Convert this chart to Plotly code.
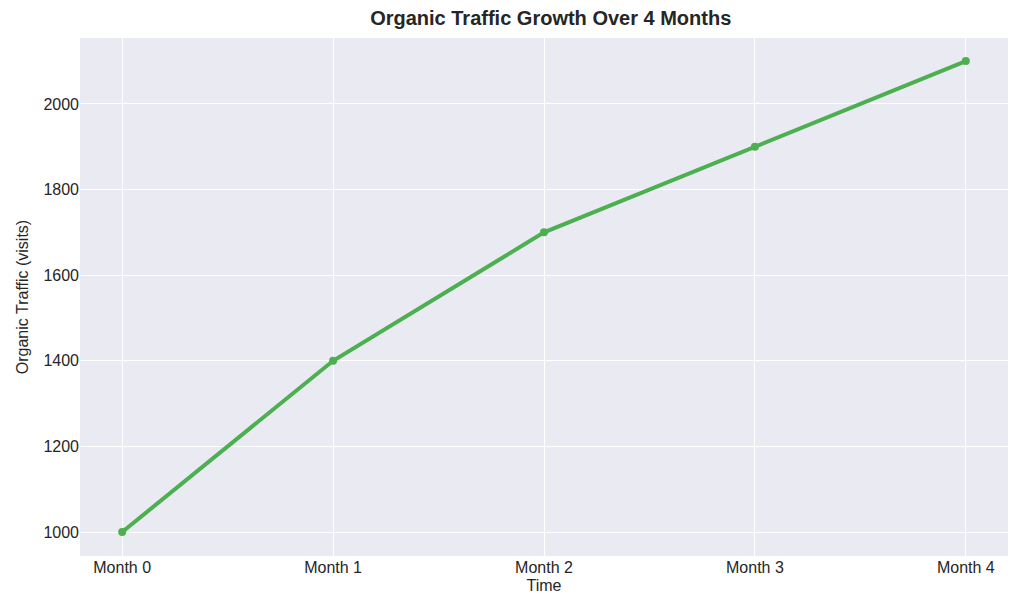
import plotly.graph_objects as go

months = ["Month 0", "Month 1", "Month 2", "Month 3", "Month 4"]
traffic = [1000, 1400, 1700, 1900, 2100]

fig = go.Figure(go.Scatter(
    x=list(range(len(months))), y=traffic, mode="lines+markers",
    line=dict(color="#4CAF50", width=4), marker=dict(color="#4CAF50", size=8)))

fig.update_layout(
    width=1024, height=614,
    margin=dict(l=72, r=24, t=30, b=66),
    paper_bgcolor="white", plot_bgcolor="#EAEAF2",
    font=dict(family="Liberation Sans, Arial, sans-serif", size=16, color="#262626"),
    title=dict(text="<b>Organic Traffic Growth Over 4 Months</b>", x=0.53, xanchor="center",
               y=0.995, yanchor="top", font=dict(size=20)),
    showlegend=False,
    xaxis=dict(title=dict(text="Time", standoff=4, font=dict(size=16)),
               tickvals=list(range(len(months))), ticktext=months,
               range=[-0.2, 4.2], gridcolor="white", zeroline=False, ticks=""),
    yaxis=dict(title=dict(text="Organic Traffic (visits)", standoff=10, font=dict(size=16)),
               range=[944, 2154], dtick=200, gridcolor="white", zeroline=False, ticks=""),
)
fig.write_html("out.html")
